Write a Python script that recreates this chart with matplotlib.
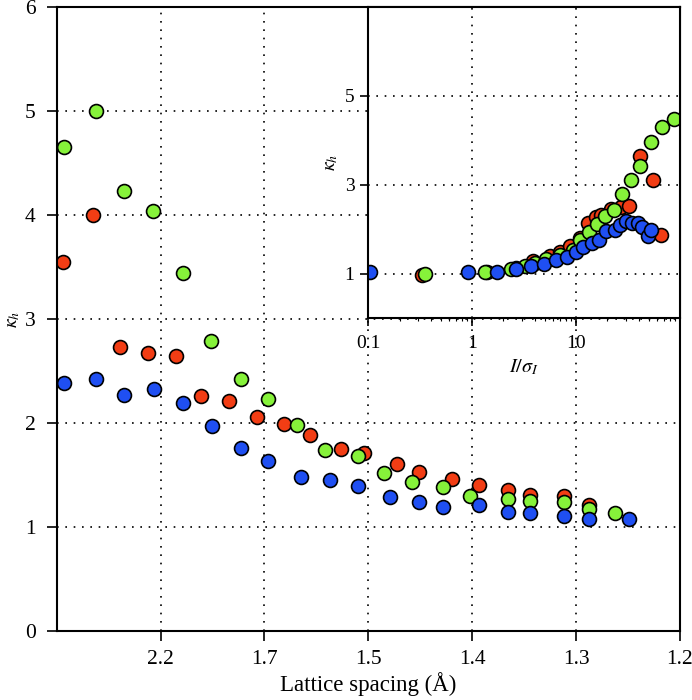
import numpy as np
import matplotlib
matplotlib.use('Agg')
import matplotlib.pyplot as plt
from matplotlib.ticker import NullFormatter, LogLocator

plt.rcParams['font.family'] = ['Liberation Serif', 'DejaVu Serif']
plt.rcParams['mathtext.fontset'] = 'stix'

# main panel: lattice spacing (A) vs kappa_h
d_red = [5.40, 3.05, 2.54, 2.25, 2.06, 1.93, 1.82, 1.73, 1.66, 1.60,
         1.54, 1.50, 1.45, 1.42, 1.38, 1.35, 1.32, 1.30, 1.27, 1.25]
k_red = [3.55, 4.00, 2.73, 2.67, 2.64, 2.26, 2.21, 2.06, 1.99, 1.88,
         1.75, 1.71, 1.61, 1.53, 1.46, 1.40, 1.36, 1.31, 1.30, 1.21]

d_green = [5.22, 2.99, 2.49, 2.21, 2.02, 1.89, 1.78, 1.70, 1.63, 1.57,
           1.51, 1.47, 1.43, 1.39, 1.36, 1.32, 1.30, 1.27, 1.25, 1.23]
k_green = [4.65, 5.00, 4.23, 4.04, 3.44, 2.79, 2.42, 2.23, 1.98, 1.74,
           1.68, 1.52, 1.43, 1.38, 1.30, 1.27, 1.25, 1.24, 1.17, 1.13]

d_blue = [5.22, 2.98, 2.49, 2.20, 2.02, 1.885, 1.78, 1.70, 1.62, 1.56,
          1.51, 1.46, 1.42, 1.39, 1.35, 1.32, 1.30, 1.27, 1.25, 1.22]
k_blue = [2.38, 2.42, 2.27, 2.33, 2.19, 1.97, 1.76, 1.63, 1.48, 1.45,
          1.39, 1.29, 1.24, 1.19, 1.21, 1.14, 1.13, 1.11, 1.08, 1.08]

# inset: I/sigma(I) vs kappa_h
i_red = [0.326, 1.40, 2.67, 3.86, 5.58, 7.0, 8.69, 10.9, 13.0, 15.5,
         17.5, 21.9, 27.0, 32.4, 41.0, 55.0, 66.2]
ki_red = [0.98, 1.03, 1.14, 1.29, 1.39, 1.50, 1.62, 1.80, 2.15, 2.28,
          2.33, 2.45, 2.50, 2.53, 3.65, 3.11, 1.88]

i_green = [0.351, 1.33, 2.39, 3.2, 4.0, 5.19, 6.97, 9.35, 10.9, 13.3,
           15.9, 19.2, 23.0, 27.9, 34.1, 41.6, 53.1, 67.1, 86.9]
ki_green = [0.99, 1.04, 1.11, 1.17, 1.24, 1.33, 1.43, 1.54, 1.76, 1.93,
            2.12, 2.29, 2.44, 2.80, 3.11, 3.43, 3.95, 4.29, 4.48]

i_blue = [0.104, 0.915, 1.72, 2.67, 3.72, 4.92, 6.48, 8.09, 9.94, 11.7,
          14.1, 16.6, 19.6, 23.5, 26.3, 30.5, 34.5, 39.4, 43.5, 49.2, 53.1]
ki_blue = [1.03, 1.03, 1.05, 1.10, 1.18, 1.22, 1.30, 1.37, 1.48, 1.61,
           1.69, 1.76, 1.95, 1.99, 2.10, 2.18, 2.15, 2.14, 2.06, 1.86, 1.99]

shell_edges = [0.1, 0.2, 0.3, 0.4, 0.5, 0.6]  # 1/d^3 tick positions

red = '#f23d14'
green = '#86f23a'
blue = '#1f4ff2'
mk = dict(marker='o', ms=10, mec='black', mew=1.2, ls='none')
grid_kw = dict(color='black', linestyle=(0, (1, 4)), linewidth=1.2)

fig = plt.figure(figsize=(6.92, 7.0), dpi=100)
ax = fig.add_axes([0.0819, 0.0986, 0.9007, 0.8914])

# x axis is linear in 1/d^3 (equal-volume shells), increasing to the right
fwd = lambda d: -1.0 / np.maximum(np.asarray(d, dtype=float), 1e-3) ** 3
inv = lambda s: np.maximum(-np.asarray(s, dtype=float), 1e-9) ** (-1.0 / 3)
ax.set_xscale('function', functions=(fwd, inv))

ax.plot(d_red, k_red, color=red, **mk)
ax.plot(d_green, k_green, color=green, **mk)
ax.plot(d_blue, k_blue, color=blue, **mk)

tick_d = [s ** (-1.0 / 3) for s in shell_edges]
ax.set_xlim(1000.0, tick_d[-1])
ax.set_xticks(tick_d)
ax.set_xticklabels([f'{d:.1f}' for d in tick_d])
ax.set_xticks([], minor=True)
ax.set_ylim(0, 6)
ax.set_yticks(range(7))
ax.grid(True, **grid_kw)
ax.set_axisbelow(True)
ax.tick_params(direction='out', length=7, width=1.2, labelsize=15.5)
ax.tick_params(axis='x', pad=7)
ax.tick_params(axis='y', pad=8)
for sp in ax.spines.values():
    sp.set_linewidth(1.5)
ax.set_xlabel('Lattice spacing (Å)', fontsize=16.5, labelpad=2)
ax.set_ylabel(r'$\kappa_h$', fontsize=14, labelpad=2)

ins = fig.add_axes([0.5322, 0.5453, 0.4504, 0.4451])
ins.plot(i_red, ki_red, color=red, **mk)
ins.plot(i_green, ki_green, color=green, **mk)
ins.plot(i_blue, ki_blue, color=blue, **mk)
ins.set_xscale('log')
ins.set_xlim(0.1, 100)
ins.set_ylim(0, 7)
ins.set_xticks([0.1, 1, 10])
ins.set_xticklabels(['0.1', '1', '10'])
ins.xaxis.set_minor_locator(LogLocator(base=10, subs=np.arange(2, 10)))
ins.xaxis.set_minor_formatter(NullFormatter())
ins.set_yticks([1, 3, 5])
ins.grid(True, **grid_kw)
ins.set_axisbelow(True)
ins.tick_params(direction='out', length=6, width=1.2, labelsize=14)
ins.tick_params(axis='x', pad=6)
ins.tick_params(axis='y', pad=4)
ins.tick_params(which='minor', direction='out', length=2.5, width=0.8)
for sp in ins.spines.values():
    sp.set_linewidth(1.5)
ins.set_xlabel(r'$I/\sigma_I$', fontsize=14.5, labelpad=4)
ins.set_ylabel(r'$\kappa_h$', fontsize=14, labelpad=3)

fig.savefig('out.png', dpi=100)
